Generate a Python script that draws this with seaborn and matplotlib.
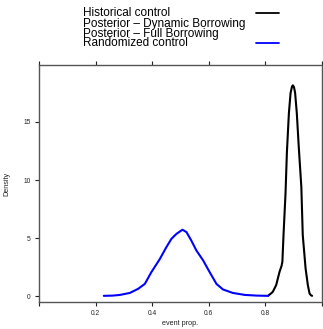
import numpy as np
import pandas as pd
import matplotlib
matplotlib.use("Agg")
import matplotlib.pyplot as plt
import seaborn as sns

# Data
rand_x = [0.229, 0.260, 0.286, 0.321, 0.350, 0.374, 0.397, 0.427, 0.450, 0.468, 0.486,
          0.507, 0.521, 0.538, 0.556, 0.580, 0.603, 0.627, 0.650, 0.685, 0.727, 0.770, 0.810]
rand_y = [0.03, 0.05, 0.11, 0.28, 0.63, 1.06, 2.07, 3.20, 4.22, 4.94, 5.37,
          5.72, 5.52, 4.80, 3.94, 3.08, 2.07, 1.06, 0.58, 0.28, 0.11, 0.05, 0.03]
hist_x = [0.810, 0.818, 0.826, 0.838, 0.850, 0.857, 0.860, 0.864, 0.871, 0.876, 0.883,
          0.889, 0.894, 0.897, 0.901, 0.905, 0.911, 0.918, 0.927, 0.932, 0.942,
          0.950, 0.956, 0.961, 0.965]
hist_y = [0.05, 0.20, 0.37, 0.95, 2.10, 2.60, 2.96, 5.26, 8.80, 12.40, 15.75,
          17.50, 18.05, 18.15, 18.00, 17.50, 15.75, 12.80, 9.40, 5.26, 2.39,
          0.95, 0.23, 0.08, 0.03]
legend_labels = ["Historical control", "Posterior \u2013 Dynamic Borrowing",
                 "Posterior \u2013 Full Borrowing", "Randomized control"]
legend_colors = ["black", None, None, "blue"]
x_ticks = [0.0, 0.2, 0.4, 0.6, 0.8, 1.0]
x_ticklabels = ["", "0.2", "0.4", "0.6", "0.8", ""]
y_ticks = [0, 5, 10, 15]

df = pd.concat([
    pd.DataFrame({"x": hist_x, "y": hist_y, "series": legend_labels[0]}),
    pd.DataFrame({"x": rand_x, "y": rand_y, "series": legend_labels[3]}),
])

sns.set_style("white")
plt.rcParams["font.family"] = ["Liberation Sans", "DejaVu Sans"]

W, H = 323, 329
fig = plt.figure(figsize=(W / 100, H / 100), dpi=100)
ax = fig.add_axes([39 / W, 1 - 302 / H, (322 - 39) / W, (302 - 65) / H])

sns.lineplot(data=df, x="x", y="y", hue="series", sort=False, estimator=None,
             palette={legend_labels[0]: "black", legend_labels[3]: "blue"},
             linewidth=1.5, legend=False, ax=ax)
for ln in ax.lines:
    ln.set_solid_joinstyle("round")
    ln.set_solid_capstyle("round")

ax.set_xlim(0.0, 0.998)
ax.set_ylim(-0.5, 19.9)
ax.set_xticks(x_ticks)
ax.set_xticklabels(x_ticklabels)
ax.set_yticks(y_ticks)
ax.set_yticklabels([str(v) for v in y_ticks])
ax.tick_params(axis="both", which="both", direction="out", length=3, width=0.8,
               labelsize=4.8, colors="#222222", pad=3,
               top=True, right=True, bottom=True, left=True,
               labeltop=False, labelright=False)
for s in ax.spines.values():
    s.set_visible(True)
    s.set_color("#555555")
    s.set_linewidth(1.0)
ax.set_xlabel("event prop.", fontsize=5.2, color="#222222", labelpad=2)
ax.set_ylabel("Density", fontsize=5.2, color="#222222", labelpad=9)
ax.grid(False)

# legend key drawn as lattice-style key above the panel
ys = [13, 23.5, 33.5, 43.5]
for lab, col, yy in zip(legend_labels, legend_colors, ys):
    fig.text(83 / W, 1 - yy / H, lab, fontsize=8.5, ha="left", va="center", color="black")
    if col is not None:
        fig.add_artist(plt.Line2D([256 / W, 279 / W], [1 - (yy - 0.5) / H] * 2,
                                  color=col, linewidth=1.3, transform=fig.transFigure))

fig.savefig("out.png", dpi=100)
